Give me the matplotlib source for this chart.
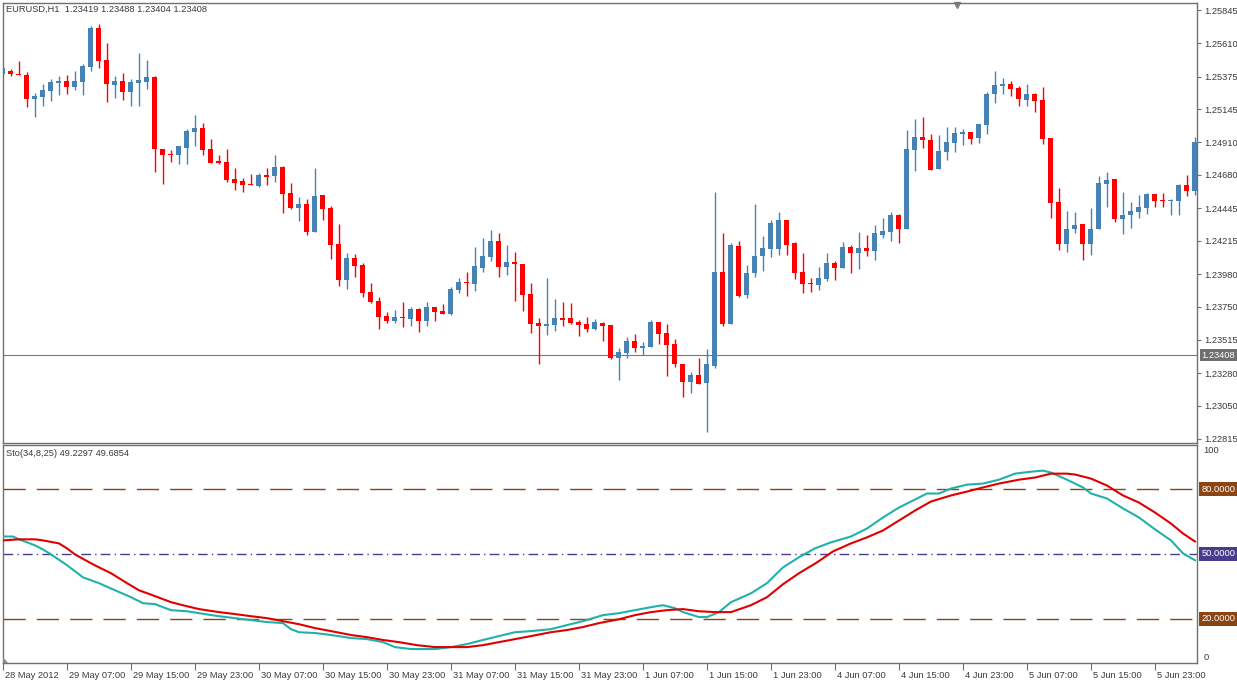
import numpy as np
import matplotlib
matplotlib.use("Agg")
import matplotlib.pyplot as plt
from matplotlib.transforms import ScaledTranslation, IdentityTransform
from matplotlib.patches import Polygon

plt.rcParams['font.family'] = ['Liberation Sans', 'DejaVu Sans']

# EURUSD H1, 150 bars
opens = [1.25393, 1.25415, 1.25393, 1.25386, 1.25217, 1.25231, 1.25273, 1.25330, 1.25344, 1.25301,
         1.25337, 1.25443, 1.25718, 1.25492, 1.25316, 1.25344, 1.25266, 1.25330, 1.25337, 1.25372,
         1.24864, 1.24828, 1.24821, 1.24871, 1.24984, 1.25012, 1.24864, 1.24779, 1.24772, 1.24652,
         1.24638, 1.24616, 1.24602, 1.24680, 1.24673, 1.24736, 1.24553, 1.24447, 1.24475, 1.24277,
         1.24539, 1.24447, 1.24193, 1.23938, 1.24094, 1.24044, 1.23854, 1.23790, 1.23684, 1.23649,
         1.23677, 1.23663, 1.23734, 1.23649, 1.23748, 1.23719, 1.23698, 1.23868, 1.23924, 1.23910,
         1.24023, 1.24101, 1.24214, 1.24030, 1.24065, 1.24051, 1.23839, 1.23635, 1.23613, 1.23620,
         1.23670, 1.23670, 1.23642, 1.23628, 1.23592, 1.23635, 1.23620, 1.23387, 1.23423, 1.23508,
         1.23458, 1.23465, 1.23642, 1.23564, 1.23486, 1.23345, 1.23218, 1.23267, 1.23211, 1.23331,
         1.23995, 1.23628, 1.24178, 1.23832, 1.23988, 1.24108, 1.24157, 1.24157, 1.24362, 1.24200,
         1.23995, 1.23917, 1.23903, 1.23945, 1.24058, 1.24023, 1.24171, 1.24129, 1.24164, 1.24143,
         1.24256, 1.24277, 1.24397, 1.24299, 1.24857, 1.24948, 1.24927, 1.24722, 1.24842, 1.24906,
         1.24970, 1.24984, 1.24941, 1.25033, 1.25252, 1.25309, 1.25323, 1.25294, 1.25210, 1.25252,
         1.25210, 1.24941, 1.24489, 1.24193, 1.24299, 1.24334, 1.24193, 1.24299, 1.24616, 1.24652,
         1.24369, 1.24397, 1.24419, 1.24447, 1.24546, 1.24503, 1.24496, 1.24496, 1.24609, 1.24567]

highs = [1.25443, 1.25429, 1.25485, 1.25407, 1.25259, 1.25323, 1.25358, 1.25379, 1.25386, 1.25415,
         1.25464, 1.25732, 1.25746, 1.25612, 1.25379, 1.25400, 1.25358, 1.25542, 1.25492, 1.25379,
         1.24864, 1.24857, 1.24885, 1.25005, 1.25104, 1.25047, 1.24934, 1.24821, 1.24864, 1.24729,
         1.24659, 1.24687, 1.24694, 1.24729, 1.24821, 1.24744, 1.24623, 1.24525, 1.24510, 1.24729,
         1.24539, 1.24461, 1.24334, 1.24129, 1.24122, 1.24058, 1.23917, 1.23818, 1.23712, 1.23726,
         1.23783, 1.23748, 1.23741, 1.23783, 1.23748, 1.23769, 1.23889, 1.23952, 1.23995, 1.24171,
         1.24235, 1.24292, 1.24270, 1.24186, 1.24136, 1.24051, 1.23917, 1.23670, 1.23952, 1.23804,
         1.23783, 1.23776, 1.23656, 1.23677, 1.23663, 1.23642, 1.23620, 1.23458, 1.23536, 1.23557,
         1.23500, 1.23656, 1.23642, 1.23628, 1.23522, 1.23345, 1.23289, 1.23387, 1.23451, 1.24560,
         1.24270, 1.24200, 1.24214, 1.24044, 1.24475, 1.24249, 1.24362, 1.24419, 1.24362, 1.24207,
         1.24129, 1.23952, 1.24030, 1.24129, 1.24073, 1.24207, 1.24186, 1.24277, 1.24256, 1.24327,
         1.24376, 1.24419, 1.24404, 1.24998, 1.25076, 1.25090, 1.24970, 1.24962, 1.25019, 1.25019,
         1.25005, 1.24984, 1.25040, 1.25266, 1.25415, 1.25365, 1.25344, 1.25309, 1.25323, 1.25259,
         1.25301, 1.24941, 1.24588, 1.24426, 1.24419, 1.24334, 1.24447, 1.24673, 1.24701, 1.24652,
         1.24560, 1.24489, 1.24539, 1.24553, 1.24546, 1.24553, 1.24510, 1.24616, 1.24680, 1.24948]

lows = [1.25386, 1.25379, 1.25386, 1.25160, 1.25090, 1.25167, 1.25203, 1.25245, 1.25252, 1.25280,
        1.25245, 1.25415, 1.25436, 1.25196, 1.25224, 1.25210, 1.25167, 1.25167, 1.25287, 1.24701,
        1.24616, 1.24772, 1.24758, 1.24758, 1.24885, 1.24821, 1.24765, 1.24758, 1.24631, 1.24574,
        1.24560, 1.24609, 1.24595, 1.24609, 1.24631, 1.24412, 1.24440, 1.24355, 1.24256, 1.24277,
        1.24362, 1.24087, 1.23896, 1.23875, 1.23959, 1.23818, 1.23776, 1.23592, 1.23635, 1.23635,
        1.23606, 1.23613, 1.23571, 1.23613, 1.23649, 1.23698, 1.23691, 1.23846, 1.23825, 1.23861,
        1.23995, 1.24073, 1.23959, 1.23974, 1.23790, 1.23719, 1.23564, 1.23345, 1.23550, 1.23578,
        1.23613, 1.23628, 1.23543, 1.23571, 1.23585, 1.23508, 1.23380, 1.23232, 1.23387, 1.23430,
        1.23409, 1.23465, 1.23486, 1.23260, 1.23324, 1.23112, 1.23140, 1.23204, 1.22865, 1.23317,
        1.23613, 1.23628, 1.23818, 1.23811, 1.23959, 1.24002, 1.24101, 1.24115, 1.24115, 1.23945,
        1.23846, 1.23854, 1.23868, 1.23931, 1.23938, 1.24023, 1.23988, 1.24016, 1.24108, 1.24080,
        1.24235, 1.24214, 1.24200, 1.24299, 1.24708, 1.24871, 1.24715, 1.24722, 1.24786, 1.24842,
        1.24892, 1.24899, 1.24906, 1.24970, 1.25188, 1.25252, 1.25238, 1.25167, 1.25167, 1.25125,
        1.24899, 1.24376, 1.24150, 1.24136, 1.24270, 1.24080, 1.24115, 1.24299, 1.24454, 1.24348,
        1.24263, 1.24306, 1.24376, 1.24404, 1.24454, 1.24454, 1.24397, 1.24397, 1.24532, 1.24539]

closes = [1.25436, 1.25393, 1.25386, 1.25217, 1.25238, 1.25280, 1.25337, 1.25344, 1.25301, 1.25344,
          1.25450, 1.25718, 1.25485, 1.25323, 1.25344, 1.25266, 1.25337, 1.25351, 1.25372, 1.24864,
          1.24821, 1.24821, 1.24885, 1.24991, 1.25012, 1.24857, 1.24765, 1.24765, 1.24645, 1.24623,
          1.24609, 1.24609, 1.24680, 1.24666, 1.24736, 1.24546, 1.24447, 1.24475, 1.24277, 1.24532,
          1.24440, 1.24186, 1.23938, 1.24094, 1.24037, 1.23846, 1.23783, 1.23677, 1.23649, 1.23677,
          1.23670, 1.23734, 1.23649, 1.23748, 1.23712, 1.23698, 1.23875, 1.23924, 1.23917, 1.24037,
          1.24108, 1.24214, 1.24030, 1.24065, 1.24051, 1.23832, 1.23628, 1.23613, 1.23628, 1.23670,
          1.23656, 1.23635, 1.23620, 1.23592, 1.23642, 1.23613, 1.23387, 1.23430, 1.23508, 1.23458,
          1.23472, 1.23642, 1.23557, 1.23479, 1.23345, 1.23218, 1.23267, 1.23204, 1.23345, 1.23995,
          1.23628, 1.24186, 1.23825, 1.23988, 1.24108, 1.24164, 1.24341, 1.24362, 1.24186, 1.23988,
          1.23910, 1.23910, 1.23952, 1.24058, 1.24023, 1.24171, 1.24129, 1.24164, 1.24143, 1.24270,
          1.24284, 1.24397, 1.24299, 1.24864, 1.24948, 1.24927, 1.24715, 1.24849, 1.24913, 1.24977,
          1.24984, 1.24934, 1.25040, 1.25252, 1.25316, 1.25323, 1.25287, 1.25217, 1.25252, 1.25203,
          1.24934, 1.24482, 1.24193, 1.24299, 1.24327, 1.24193, 1.24299, 1.24623, 1.24645, 1.24369,
          1.24397, 1.24426, 1.24454, 1.24546, 1.24496, 1.24496, 1.24503, 1.24609, 1.24567, 1.24913]

bid_price = 1.23408
price_ticks = [1.25845, 1.25610, 1.25375, 1.25145, 1.24910, 1.24680, 1.24445,
               1.24215, 1.23980, 1.23750, 1.23515, 1.23280, 1.23050, 1.22815]

time_labels = ['28 May 2012', '29 May 07:00', '29 May 15:00', '29 May 23:00', '30 May 07:00',
               '30 May 15:00', '30 May 23:00', '31 May 07:00', '31 May 15:00', '31 May 23:00',
               '1 Jun 07:00', '1 Jun 15:00', '1 Jun 23:00', '4 Jun 07:00', '4 Jun 15:00',
               '4 Jun 23:00', '5 Jun 07:00', '5 Jun 15:00', '5 Jun 23:00']

# stochastic (34,8,25): main (%K) and signal (%D), sampled at bar positions
main_bar = [0, 1.25, 2, 4, 5, 6, 8, 10, 12, 14, 16, 17.5, 19, 21, 23, 24.5, 27, 29, 31, 33,
            35, 36, 37, 39, 41, 43.5, 45.5, 47.5, 49, 51, 54, 56, 58, 60, 62, 64, 66, 68.5, 70.5, 72.5,
            75, 77, 79, 81, 82.5, 84, 85, 87, 88, 89.5, 91, 93.5, 95.5, 97.5, 99.5, 101.5, 103.5, 106, 108, 110,
            112, 113.5, 114, 115.5, 117, 118.5, 120.5, 122.5, 124.5, 126.5, 128.5, 130, 131, 133, 135, 136,
            138, 140, 142, 144, 146, 147.5, 149]
main_val = [58.1, 58.1, 56.8, 54.0, 52.1, 49.8, 44.8, 39.2, 36.5, 33.2, 30.0, 27.2, 26.8, 24.0, 23.5,
            22.6, 21.2, 20.3, 19.4, 18.5, 18.0, 15.2, 13.8, 13.4, 12.5, 11.1, 10.6, 9.2, 6.9, 6.0,
            6.0, 6.9, 8.3, 10.2, 12.0, 13.8, 14.3, 15.2, 17.1, 18.9, 21.7, 22.6, 24.0, 25.4, 26.3,
            24.9, 23.1, 20.8, 20.8, 23.1, 27.7, 31.8, 36.5, 43.8, 48.5, 52.6, 55.4, 58.1, 61.8, 66.9,
            71.5, 74.3, 75.2, 78.0, 78.0, 80.3, 82.1, 82.6, 84.4, 87.2, 88.1, 88.6, 87.7, 84.4, 80.8,
            78.0, 75.7, 71.1, 66.9, 61.4, 56.3, 50.3, 47.1]
signal_bar = [0, 2, 4, 5, 7, 8, 9, 11, 12, 13.5, 15.5, 17, 19, 21, 23, 24.5, 27, 29, 31, 33,
              35, 37, 39, 41, 43.5, 45.5, 47.5, 49.5, 51.75, 54, 56, 58, 60, 62, 64, 66, 68.5, 70.5, 72.5, 74.5,
              77, 79, 81, 83, 85, 87, 89, 91, 93.5, 95.5, 97.5, 99.5, 101.75, 103.75, 106, 108, 110, 112, 114, 116,
              118.5, 120.5, 122.5, 124.5, 127, 129, 131, 133, 134, 136, 138, 140, 142, 144, 146, 147.5, 149]
signal_val = [56.3, 56.8, 56.8, 56.3, 54.9, 52.6, 49.8, 45.7, 43.8, 41.1, 36.5, 33.2, 30.5, 27.7, 25.8,
              24.5, 23.1, 22.2, 21.2, 20.3, 18.9, 17.5, 15.7, 14.3, 12.5, 11.5, 10.2, 9.2, 7.8, 6.9,
              6.9, 6.9, 7.8, 9.2, 10.6, 12.0, 13.8, 14.8, 16.2, 18.0, 19.8, 21.7, 23.1, 24.0, 24.5,
              23.5, 23.1, 23.1, 26.3, 30.0, 36.0, 41.1, 46.1, 51.2, 54.9, 57.7, 60.9, 65.5, 70.1, 74.3,
              77.1, 78.9, 80.8, 82.6, 84.4, 85.4, 87.2, 87.2, 86.8, 84.9, 81.7, 77.1, 73.8, 69.2, 64.1,
              59.5, 55.8]
levels = [80, 50, 20]

W, H = 1237, 682
FS = 6.7
TXT = '#3a3a3a'
EDGE = '#707070'


def px_rect(l, t, r, b):
    return [l / W, 1 - b / H, (r - l) / W, (b - t) / H]


fig = plt.figure(figsize=(W / 100, H / 100), dpi=100)
ax = fig.add_axes(px_rect(2.5, 2.5, 1196.5, 442.5))
ax2 = fig.add_axes(px_rect(2.5, 444.5, 1196.5, 663))

for a in (ax, ax2):
    for s in a.spines.values():
        s.set_color(EDGE)
        s.set_linewidth(1.0)
    a.set_xlim(-0.0625, 149.19)

# candles
o = np.array(opens)
h = np.array(highs)
l = np.array(lows)
c = np.array(closes)
idx = np.arange(len(o))
col = np.where(c > o, '#4682B4', '#FF0000')
ax.vlines(idx, l, h, colors=col, lw=1.0, zorder=2)
ax.bar(idx, np.maximum(np.abs(c - o), 0.00008), bottom=np.minimum(o, c),
       width=0.625, color=col, linewidth=0, zorder=3)

ax.axhline(bid_price, color='#7a7a7a', lw=0.8, zorder=1)
ax.set_ylim(1.22790, 1.25898)
ax.set_xticks([])
ax.yaxis.tick_right()
ax.set_yticks(price_ticks)
ax.set_yticklabels([f'{p:.5f}' for p in price_ticks])
ax.tick_params(axis='y', direction='out', length=3, width=0.8, color=EDGE,
               pad=2.5, labelsize=FS, labelcolor=TXT)

ax.annotate('EURUSD,H1  1.23419 1.23488 1.23404 1.23408', xy=(0, 1), xycoords='axes fraction',
            xytext=(4, -2), textcoords='offset pixels', ha='left', va='top',
            fontsize=FS, color=TXT)
ax.annotate(f'{bid_price:.5f}', xy=(1, bid_price), xycoords=('axes fraction', 'data'),
            xytext=(5, 0), textcoords='offset pixels', ha='left', va='center',
            fontsize=FS, color='white', annotation_clip=False,
            bbox=dict(boxstyle='square,pad=0.2', fc='#6f6f6f', ec='none'))
ax.plot([0.7994], [0.9945], marker='v', ms=5, color='#808080', transform=ax.transAxes,
        clip_on=False, linestyle='none')

# stochastic panel
ax2.plot(main_bar, main_val, color='#20B2AA', lw=1.5, zorder=3)
ax2.plot(signal_bar, signal_val, color='#E00000', lw=1.5, zorder=4)
lvl_style = {80: ('#8B4513', (0, (16, 8))), 50: ('#483D8B', (0, (7, 3, 1, 3))),
             20: ('#8B4513', (0, (16, 8)))}
for lv in levels:
    lc, ls = lvl_style[lv]
    ax2.axhline(lv, color=lc, lw=1.0, ls=ls, zorder=2)
    ax2.annotate(f'{lv:.4f}', xy=(1, lv), xycoords=('axes fraction', 'data'),
                 xytext=(5, 0), textcoords='offset pixels', ha='left', va='center',
                 fontsize=FS, color='white', annotation_clip=False,
                 bbox=dict(boxstyle='square,pad=0.25', fc=lc, ec='none'))
ax2.set_ylim(-0.46, 100.69)
ax2.set_yticks([])
ax2.annotate('100', xy=(1, 100), xycoords=('axes fraction', 'data'), xytext=(7, -5),
             textcoords='offset pixels', ha='left', va='center', fontsize=FS, color=TXT,
             annotation_clip=False)
ax2.annotate('0', xy=(1, 0), xycoords=('axes fraction', 'data'), xytext=(7, 5),
             textcoords='offset pixels', ha='left', va='center', fontsize=FS, color=TXT,
             annotation_clip=False)
ax2.annotate('Sto(34,8,25) 49.2297 49.6854', xy=(0, 1), xycoords='axes fraction',
             xytext=(4, -4), textcoords='offset pixels', ha='left', va='top',
             fontsize=FS, color=TXT)

ax2.set_xticks(np.arange(0, 8 * len(time_labels), 8))
ax2.set_xticklabels(time_labels)
ax2.tick_params(axis='x', direction='out', length=5, width=0.8, color=EDGE,
                pad=0.5, labelsize=FS, labelcolor=TXT)
shift = ScaledTranslation(2 / 100, 0, fig.dpi_scale_trans)
for lab in ax2.get_xticklabels():
    lab.set_horizontalalignment('left')
    lab.set_transform(lab.get_transform() + shift)

# small chart-shift corner marker
fig.patches.append(Polygon([(3, 19), (8, 19), (3, 25)], closed=True, fc='#8a8a8a', ec='none',
                           transform=IdentityTransform(), figure=fig))

fig.savefig('out.png', dpi=100, facecolor='white')
